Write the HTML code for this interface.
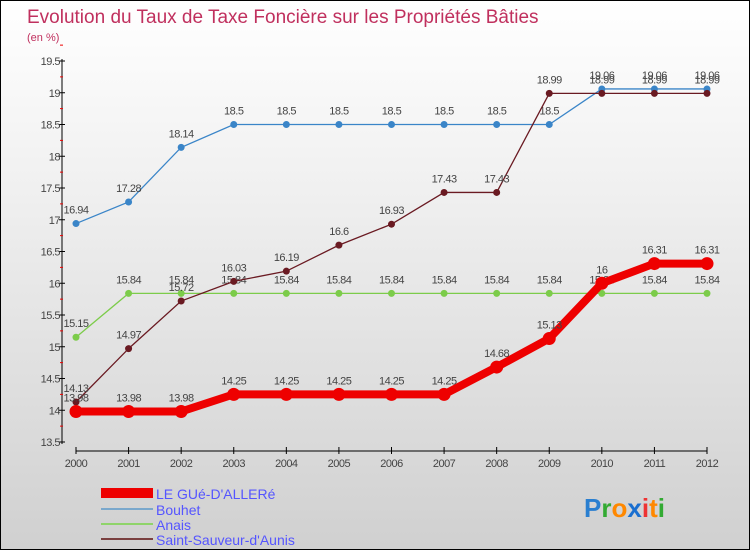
<!DOCTYPE html>
<html><head><meta charset="utf-8"><style>
body{margin:0;}
#wrap{width:748px;height:548px;border:1px solid #000;background:linear-gradient(#fff,#f2f2f2 30%,#d0d0d0);position:relative;overflow:hidden;font-family:"Liberation Sans",sans-serif;}
svg text{font-family:"Liberation Sans",sans-serif;}
</style></head><body>
<div id="wrap">
<svg id="chart" width="750" height="550">
<text x="26" y="22" font-size="19" fill="#c0305e">Evolution du Taux de Taxe Foncière sur les Propriétés Bâties</text>
<text x="26" y="40" font-size="11" fill="#c0305e">(en %)</text>
<g id="axes"></g><g id="series"></g>
<g>
<rect x="100" y="487" width="52" height="10" fill="#e00"/>
<text x="155" y="498" font-size="14" fill="#55f">LE GUé-D'ALLERé</text>
<rect x="100" y="507" width="52" height="2" fill="#7aa8cc"/>
<text x="155" y="514" font-size="14" fill="#55f">Bouhet</text>
<rect x="100" y="522" width="52" height="2" fill="#8fd46a"/>
<text x="155" y="529" font-size="14" fill="#55f">Anais</text>
<rect x="100" y="537" width="52" height="2" fill="#7a4040"/>
<text x="155" y="544" font-size="14" fill="#55f">Saint-Sauveur-d'Aunis</text>
</g>
<text x="583" y="516" font-size="26" font-weight="bold"><tspan fill="#2a7fd0">P</tspan><tspan fill="#3a3">r</tspan><tspan fill="#f80">o</tspan><tspan fill="#1a6fd0">x</tspan><tspan fill="#e33">i</tspan><tspan fill="#f80">t</tspan><tspan fill="#3a3">i</tspan></text>
</svg></div>
<script>
const years=[2000,2001,2002,2003,2004,2005,2006,2007,2008,2009,2010,2011,2012];
const yTicks=[13.5,14,14.5,15,15.5,16,16.5,17,17.5,18,18.5,19,19.5];
const gue=[13.98,13.98,13.98,14.25,14.25,14.25,14.25,14.25,14.68,15.13,16,16.31,16.31];
const bouhet=[16.94,17.28,18.14,18.5,18.5,18.5,18.5,18.5,18.5,18.5,19.06,19.06,19.06];
const anais=[15.15,15.84,15.84,15.84,15.84,15.84,15.84,15.84,15.84,15.84,15.84,15.84,15.84];
const saint=[14.13,14.97,15.72,16.03,16.19,16.6,16.93,17.43,17.43,18.99,18.99,18.99,18.99];
const NS="http://www.w3.org/2000/svg";
const xS=i=>75+i*(706-75)/12;
const yS=v=>441-(v-13.5)*63.5;
function mk(p,t,a){const e=document.createElementNS(NS,t);for(const k in a)e.setAttribute(k,a[k]);p.appendChild(e);return e;}
const ax=document.getElementById('axes');
const yl=mk(ax,'line',{x1:61,y1:58,x2:61,y2:443,stroke:'#000'});


const xl=mk(ax,'line',{x1:75,y1:450,x2:706,y2:450,stroke:'#000'});


yTicks.forEach(v=>{
 mk(ax,'line',{x1:58,x2:64,y1:yS(v),y2:yS(v),stroke:'#000'});
 mk(ax,'line',{x1:59,x2:62,y1:yS(v+0.25),y2:yS(v+0.25),stroke:'#e00'});
 const t=mk(ax,'text',{x:59,y:yS(v)+4,'font-size':11,fill:'#444','text-anchor':'end','letter-spacing':'-0.5'});
 t.textContent=v;
 
 
});
years.forEach((y,i)=>{
 mk(ax,'line',{x1:xS(i),x2:xS(i),y1:446,y2:453,stroke:'#000'});
 const t=mk(ax,'text',{x:xS(i),y:466,'font-size':11,fill:'#444','text-anchor':'middle','letter-spacing':'-0.5'});
 t.textContent=y;
 
 
});
const sg=document.getElementById('series');
function draw(vals,color,w,r,name){
 const g=mk(sg,'g',{});
 
 
 mk(g,'polyline',{points:vals.map((v,i)=>xS(i)+','+yS(v)).join(' '),fill:'none',stroke:color,'stroke-width':w});
 vals.forEach((v,i)=>{
  const c=mk(g,'circle',{cx:xS(i),cy:yS(v),r:r,fill:color});
  
  
  const t=mk(g,'text',{x:xS(i),y:yS(v)-10,'font-size':11,fill:'#444','text-anchor':'middle','letter-spacing':'-0.5'});
  t.textContent=v;
  
  
 });
}
draw(bouhet,'#3a85c8',1.3,3.5,'bouhet');
draw(anais,'#7ccc4a',1.3,3.5,'anais');
draw(saint,'#6a1a22',1.3,3.5,'saint-sauveur');
draw(gue,'#e00',8,6.5,'gue');
</script>
</body></html>
